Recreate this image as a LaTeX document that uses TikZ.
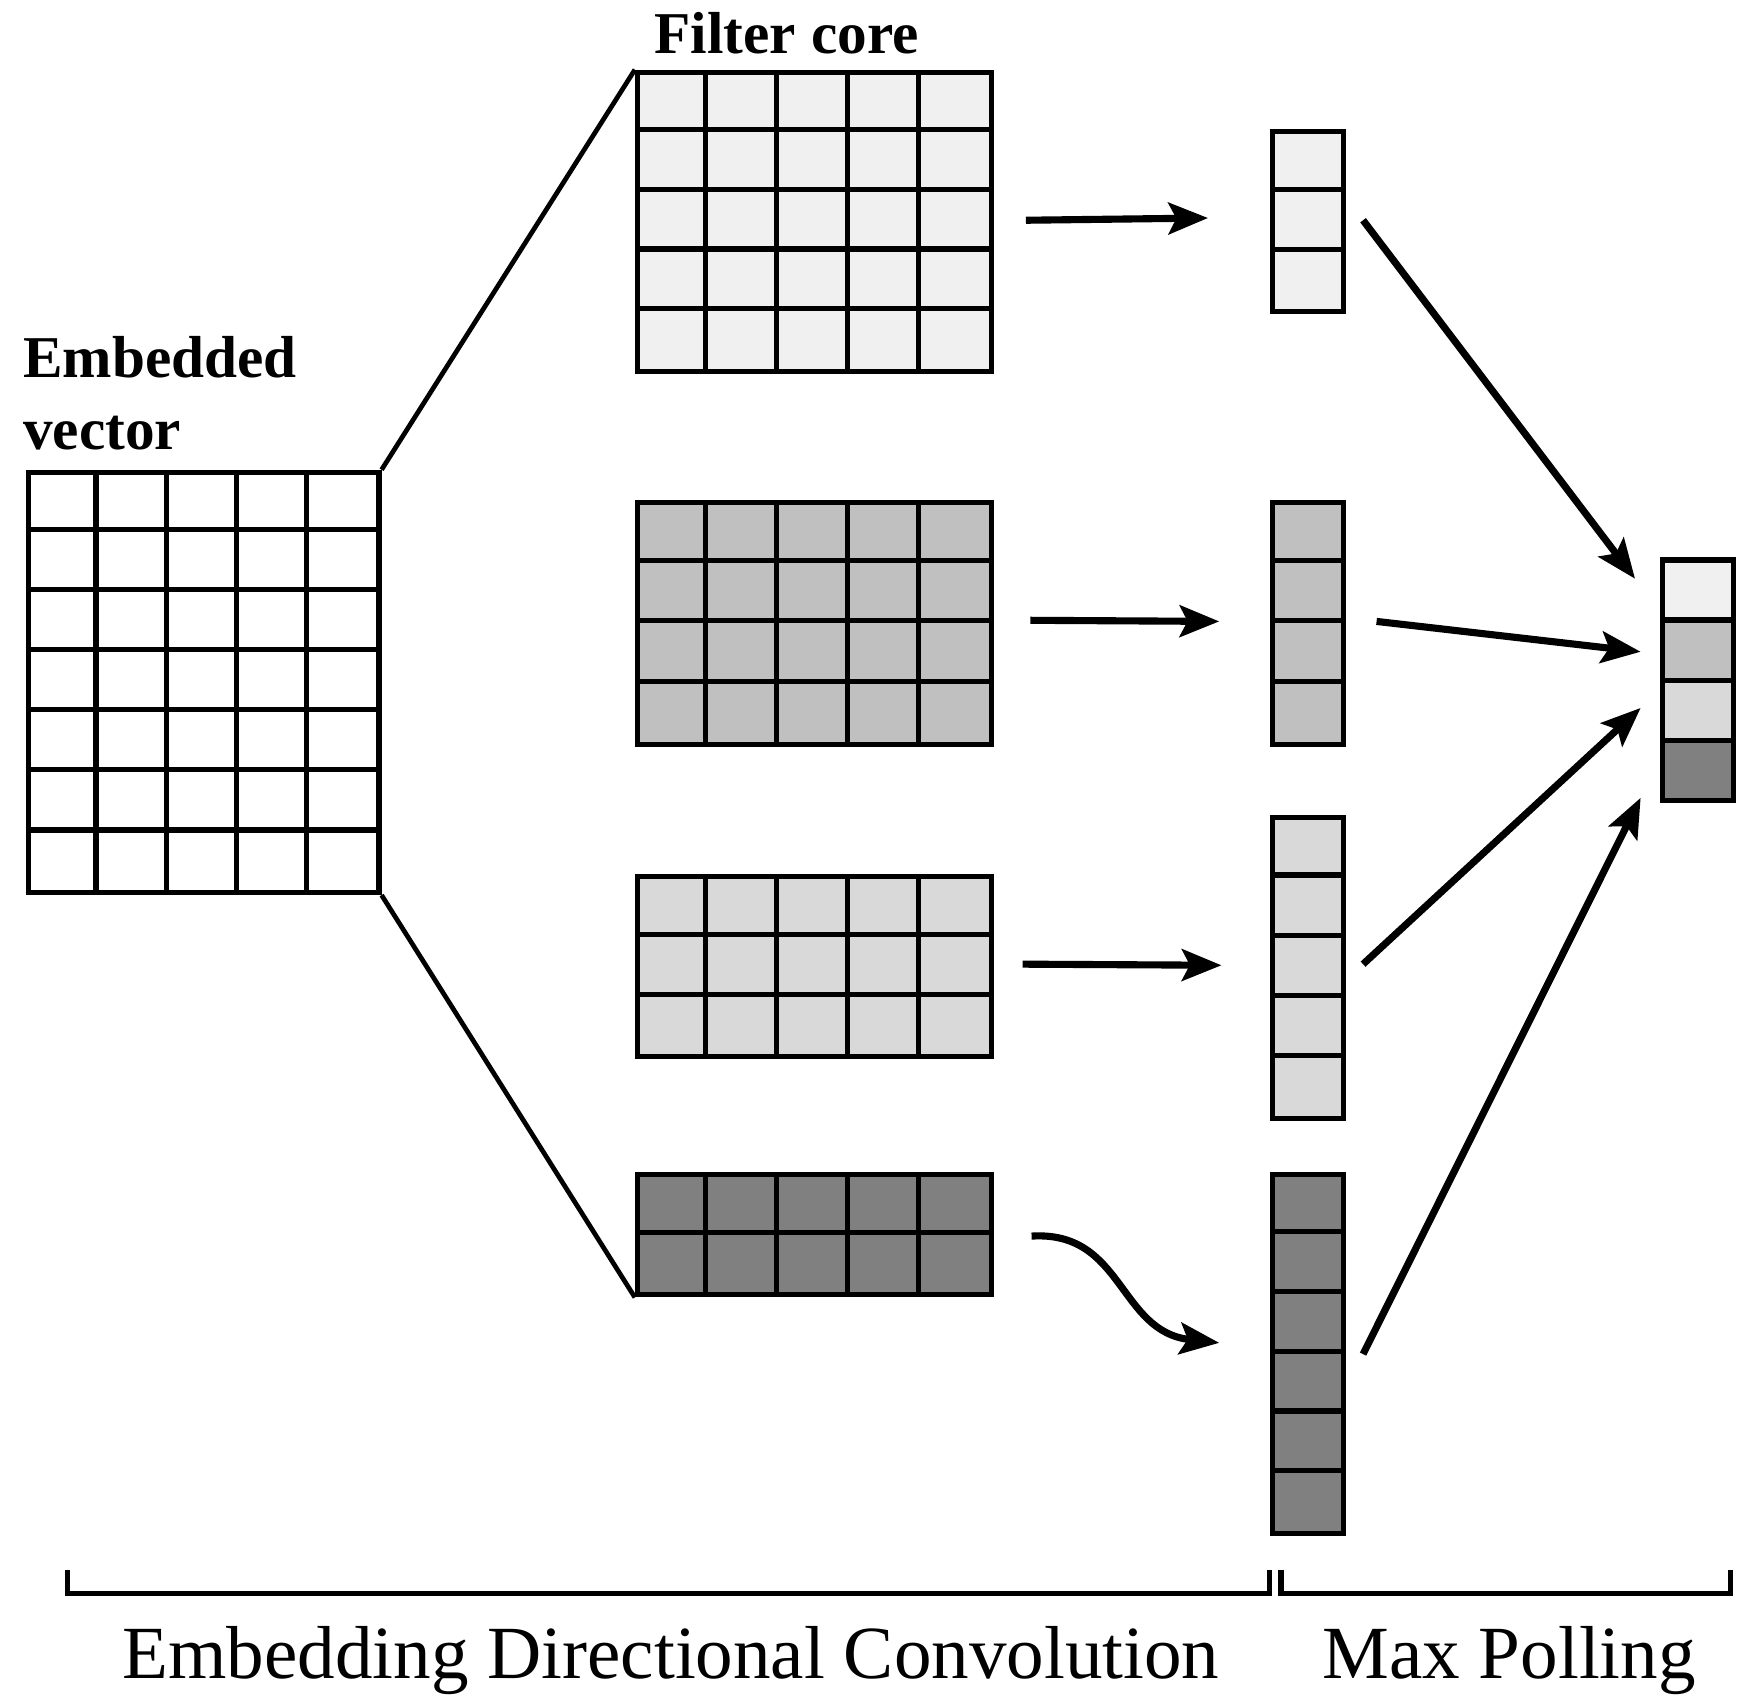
\documentclass[tikz,border=0pt]{standalone}
\usepackage{fontspec}
\setmainfont{Liberation Serif}
\usetikzlibrary{arrows.meta}
\definecolor{gA}{HTML}{F0F0F0}
\definecolor{gB}{HTML}{C0C0C0}
\definecolor{gC}{HTML}{D9D9D9}
\definecolor{gD}{HTML}{808080}
\newcommand\gridblk[8]{% name x1 y1 x2 y2 cols rows fill
  \node[draw=black,line width=1.3pt,fill=#8,inner sep=0pt,anchor=north west,
        minimum width=(#4-#2)*0.01cm,minimum height=(#5-#3)*0.01cm] (#1) at (#2,#3) {};
  \pgfmathsetmacro\cw{(#4-#2)/#6}\pgfmathsetmacro\ch{(#5-#3)/#7}
  \pgfmathtruncatemacro\cn{#6-1}\pgfmathtruncatemacro\rn{#7-1}
  \ifnum\cn>0 \foreach \i in {1,...,\cn}{\draw[line width=1.3pt] (#2+\i*\cw,#3) -- (#2+\i*\cw,#5);}\fi
  \ifnum\rn>0 \foreach \j in {1,...,\rn}{\draw[line width=1.3pt] (#2,#3+\j*\ch) -- (#4,#3+\j*\ch);}\fi
}
\tikzset{arr/.style={line width=1.8pt,-{Stealth[length=10pt,width=8pt,inset=2pt]}},
  lbl/.style={font=\bfseries\fontsize{15}{17}\selectfont,inner sep=0pt},
  big/.style={font=\fontsize{19}{21}\selectfont,inner sep=0pt}}
\begin{document}
\begin{tikzpicture}[x=0.01cm,y=-0.01cm]
\useasboundingbox (0,0) rectangle (1560,1518);
\gridblk{emb}{23}{418}{335}{792}{5}{7}{white}
\gridblk{f1}{565}{62}{880}{328}{5}{5}{gA}
\gridblk{f2}{565}{445}{880}{660}{5}{4}{gB}
\gridblk{f3}{565}{778}{880}{938}{5}{3}{gC}
\gridblk{f4}{565}{1043}{880}{1150}{5}{2}{gD}
\gridblk{c1}{1130}{115}{1193}{275}{1}{3}{gA}
\gridblk{c2}{1130}{445}{1193}{660}{1}{4}{gB}
\gridblk{c3}{1130}{725}{1193}{993}{1}{5}{gC}
\gridblk{c4}{1130}{1043}{1193}{1362}{1}{6}{gD}
\node[draw=black,line width=1.3pt,fill=gA,inner sep=0pt,anchor=north west,minimum width=0.63cm,minimum height=0.535cm] (o1) at (1477,496) {};
\node[draw=black,line width=1.3pt,fill=gB,inner sep=0pt,anchor=north west,minimum width=0.63cm,minimum height=0.535cm] (o2) at (1477,549.5) {};
\node[draw=black,line width=1.3pt,fill=gC,inner sep=0pt,anchor=north west,minimum width=0.63cm,minimum height=0.535cm] (o3) at (1477,603) {};
\node[draw=black,line width=1.3pt,fill=gD,inner sep=0pt,anchor=north west,minimum width=0.63cm,minimum height=0.535cm] (o4) at (1477,656.5) {};
\draw[line width=1.2pt] (emb.north east) -- (f1.north west);
\draw[line width=1.2pt] (emb.south east) -- (f4.south west);
\coordinate (a1s) at (913,196); \coordinate (a1e) at (1075,194);
\coordinate (a2s) at (917,552); \coordinate (a2e) at (1085,553);
\coordinate (a3s) at (910,858); \coordinate (a3e) at (1087,859);
\coordinate (a4s) at (918,1100); \coordinate (a4e) at (1085,1195);
\draw[arr] (a1s) -- (a1e);
\draw[arr] (a2s) -- (a2e);
\draw[arr] (a3s) -- (a3e);
\draw[arr] (a4s) .. controls (1000,1095) and (995,1185) .. (a4e);
\coordinate (b1s) at (1213,196); \coordinate (b1e) at (1455,515);
\coordinate (b2s) at (1225,553); \coordinate (b2e) at (1460,580);
\coordinate (b3s) at (1213,858); \coordinate (b3e) at (1460,630);
\coordinate (b4s) at (1213,1205); \coordinate (b4e) at (1460,710);
\draw[arr] (b1s) -- (b1e);
\draw[arr] (b2s) -- (b2e);
\draw[arr] (b3s) -- (b3e);
\draw[arr] (b4s) -- (b4e);
\draw[line width=1.3pt] (60,1397) -- (60,1418) -- (1130,1418) -- (1130,1397);
\draw[line width=1.3pt] (1140,1397) -- (1140,1418) -- (1540,1418) -- (1540,1397);
\node[lbl] (tfc) at (700,30) {Filter core};
\node[lbl,anchor=west] (tev) at (20,318) {Embedded};
\node[lbl,anchor=west] (tev2) at (20,385) {vector};
\node[big] (tedc) at (597,1478) {Embedding Directional Convolution};
\node[big] (tmp) at (1343,1478) {Max Polling};
\end{tikzpicture}
\end{document}
